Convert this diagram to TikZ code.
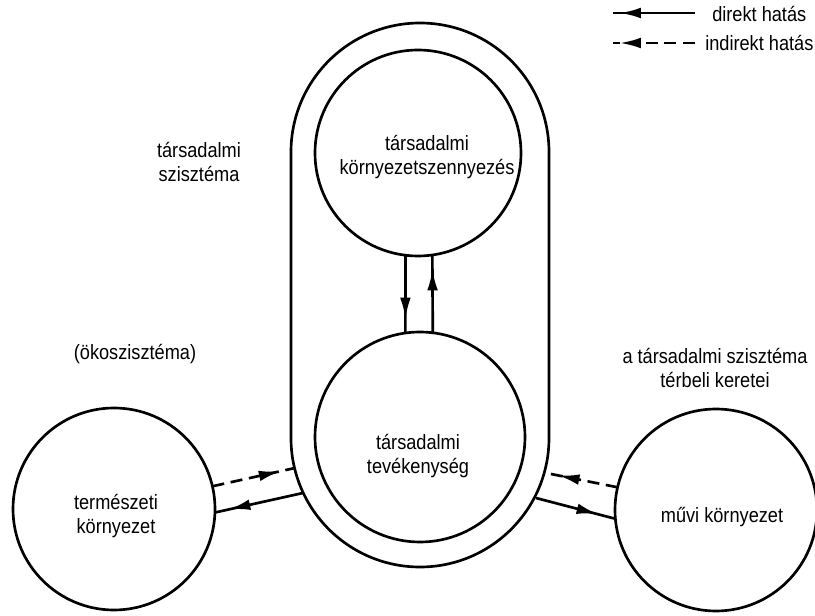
\documentclass[tikz,border=0pt]{standalone}
\usepackage{fontspec}
\setmainfont{Liberation Sans}[FakeStretch=0.88]
\usetikzlibrary{arrows.meta,decorations.markings}

\tikzset{
	kor/.style={draw,circle,line width=2pt,inner sep=0,outer sep=0},
	hat/.style={line width=2pt,postaction={decorate},decoration={markings,mark=at position #1 with {\arrow{Latex[length=16pt,width=8pt]}}}},
	hat/.default=0.82,
	szag/.style={dash pattern=on 9pt off 5pt},
	szov/.style={align=center,font=\fontsize{15.5}{17.5}\selectfont}
}

\begin{document}
\begin{tikzpicture}[x=0.75pt,y=-0.75pt]
	\useasboundingbox (0,0) rectangle (815,616);
	\draw[line width=2pt] (291,152) -- (291,438) arc[start angle=180,end angle=0,radius=129] -- (549,152) arc[start angle=0,end angle=-180,radius=129] -- cycle;
	\node[kor,minimum size=154.5pt] (szenny) at (418,153) {};
	\node[kor,minimum size=157.5pt] (tev) at (420,437) {};
	\node[kor,minimum size=151.5pt] (term) at (114,509) {};
	\node[kor,minimum size=151.5pt] (muvi) at (716,510) {};
	\coordinate (b1) at (295,468);
	\coordinate (b2) at (303,493);
	\coordinate (j1) at (546,473);
	\coordinate (j2) at (536,498);
	\draw[hat] (szenny.-97) -- (tev.98);
	\draw[hat] (tev.83) -- (szenny.-82);
	\draw[hat,szag] (term.13) -- (b1);
	\draw[hat=0.84] (b2) -- (term.-2);
	\draw[hat=0.83,szag] (muvi.167) -- (j1);
	\draw[hat=0.78] (j2) -- (muvi.185);
	\node[szov] (t1) at (427,157) {társadalmi\\környezetszennyezés};
	\node[szov] (t2) at (418,456) {társadalmi\\tevékenység};
	\node[szov] (t3) at (116,516) {természeti\\környezet};
	\node[szov] (t4) at (722,517) {művi környezet};
	\node[szov] (t5) at (199,162) {társadalmi\\szisztéma};
	\node[szov] (t6) at (135,354) {(ökoszisztéma)};
	\node[szov] (t7) at (715,368) {a társadalmi szisztéma\\térbeli keretei};
	\coordinate (l1) at (695,13);
	\coordinate (l2) at (613,13);
	\coordinate (l3) at (695,43);
	\coordinate (l4) at (613,43);
	\draw[hat=0.92] (l1) -- (l2);
	\draw[hat=0.92,szag] (l3) -- (l4);
	\node[szov,anchor=west,inner sep=0] (d1) at (712,14) {direkt hatás};
	\node[szov,anchor=west,inner sep=0] (d2) at (705,43) {indirekt hatás};
\end{tikzpicture}
\end{document}
